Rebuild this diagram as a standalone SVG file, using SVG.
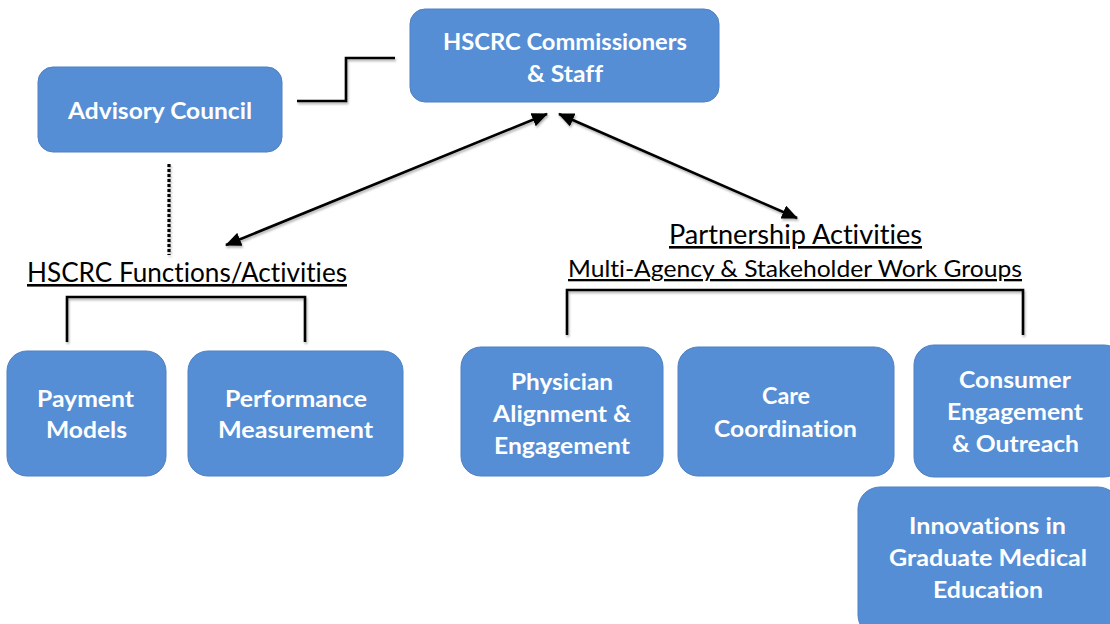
<svg xmlns="http://www.w3.org/2000/svg" width="1110" height="624" viewBox="0 0 1110 624">
<defs>
<style>
.box{fill:#558ED5;stroke:#4E80C2;stroke-width:1}
.bt{font-family:Lato,"Open Sans","DejaVu Sans",sans-serif;font-weight:bold;font-size:23.5px;fill:#FFFFFF;text-anchor:middle;font-variant-ligatures:none;font-feature-settings:"liga" 0}
.tt{font-family:Lato,"Open Sans","DejaVu Sans",sans-serif;font-size:26px;fill:#000000;text-anchor:middle;text-decoration:underline;font-variant-ligatures:none;font-feature-settings:"liga" 0}
.ln{fill:none;stroke:#000000;stroke-width:2.6}
</style>
<filter id="sh" x="-10%" y="-10%" width="120%" height="130%">
<feDropShadow dx="1" dy="2" stdDeviation="1.2" flood-color="#000000" flood-opacity="0.3"/>
</filter>
<marker id="ah" viewBox="0 0 16 14" markerWidth="16" markerHeight="14" refX="15" refY="7" orient="auto-start-reverse" markerUnits="userSpaceOnUse">
<path d="M0,0 L16,7 L0,14 z" fill="#000000"/>
</marker>
</defs>
<rect width="1110" height="624" fill="#FFFFFF"/>
<g id="connectors" filter="url(#sh)">
<polyline class="ln" points="297,101 346,101 346,58 395,58"/>
<line x1="169" y1="164" x2="169" y2="255" stroke="#000000" stroke-width="3.2" stroke-dasharray="3,2"/>
<line class="ln" x1="547" y1="114" x2="226" y2="245" marker-start="url(#ah)" marker-end="url(#ah)"/>
<line class="ln" x1="559" y1="114" x2="797" y2="218" marker-start="url(#ah)" marker-end="url(#ah)"/>
<polyline class="ln" points="67,342 67,297 305,297 305,342"/>
<polyline class="ln" points="567,335 567,290 1023,290 1023,335"/>
</g>
<g id="hscrc">
<rect class="box" x="410" y="9" width="309" height="93" rx="15"/>
<text class="bt" x="565" y="50" textLength="244" lengthAdjust="spacingAndGlyphs">HSCRC Commissioners</text>
<text class="bt" x="565" y="82" textLength="76" lengthAdjust="spacingAndGlyphs">&amp; Staff</text>
</g>
<g id="advisory">
<rect class="box" x="38" y="67" width="244" height="85" rx="15"/>
<text class="bt" x="160" y="119" textLength="184" lengthAdjust="spacingAndGlyphs">Advisory Council</text>
</g>
<g id="functions-title">
<text class="tt" x="187" y="282" textLength="320" lengthAdjust="spacingAndGlyphs">HSCRC Functions/Activities</text>
</g>
<g id="partnership-title">
<text class="tt" x="795.5" y="244" textLength="253" lengthAdjust="spacingAndGlyphs">Partnership Activities</text>
<text class="tt" x="795" y="277" style="font-size:23px" textLength="454" lengthAdjust="spacingAndGlyphs">Multi-Agency &amp; Stakeholder Work Groups</text>
</g>
<g id="payment">
<rect class="box" x="7" y="351" width="159" height="125" rx="20"/>
<text class="bt" x="85.5" y="407" textLength="97" lengthAdjust="spacingAndGlyphs">Payment</text>
<text class="bt" x="86.5" y="438" textLength="81" lengthAdjust="spacingAndGlyphs">Models</text>
</g>
<g id="performance">
<rect class="box" x="188" y="351" width="215" height="125" rx="20"/>
<text class="bt" x="296" y="407" textLength="142" lengthAdjust="spacingAndGlyphs">Performance</text>
<text class="bt" x="295.5" y="438" textLength="155" lengthAdjust="spacingAndGlyphs">Measurement</text>
</g>
<g id="physician">
<rect class="box" x="461" y="347" width="202" height="129" rx="20"/>
<text class="bt" x="562" y="390" textLength="102" lengthAdjust="spacingAndGlyphs">Physician</text>
<text class="bt" x="562" y="422" textLength="138" lengthAdjust="spacingAndGlyphs">Alignment &amp;</text>
<text class="bt" x="562" y="454" textLength="136" lengthAdjust="spacingAndGlyphs">Engagement</text>
</g>
<g id="care">
<rect class="box" x="678" y="347" width="216" height="129" rx="20"/>
<text class="bt" x="786" y="404" textLength="48" lengthAdjust="spacingAndGlyphs">Care</text>
<text class="bt" x="785.5" y="437" textLength="143" lengthAdjust="spacingAndGlyphs">Coordination</text>
</g>
<g id="consumer">
<rect class="box" x="914" y="345" width="210" height="132" rx="20"/>
<text class="bt" x="1015" y="388" textLength="112" lengthAdjust="spacingAndGlyphs">Consumer</text>
<text class="bt" x="1015" y="420" textLength="136" lengthAdjust="spacingAndGlyphs">Engagement</text>
<text class="bt" x="1015.5" y="452" textLength="127" lengthAdjust="spacingAndGlyphs">&amp; Outreach</text>
</g>
<g id="innovations">
<rect class="box" x="858" y="487" width="262" height="150" rx="22"/>
<text class="bt" x="987.5" y="534" textLength="157" lengthAdjust="spacingAndGlyphs">Innovations in</text>
<text class="bt" x="988" y="566" textLength="198" lengthAdjust="spacingAndGlyphs">Graduate Medical</text>
<text class="bt" x="988" y="598" textLength="110" lengthAdjust="spacingAndGlyphs">Education</text>
</g>
</svg>
